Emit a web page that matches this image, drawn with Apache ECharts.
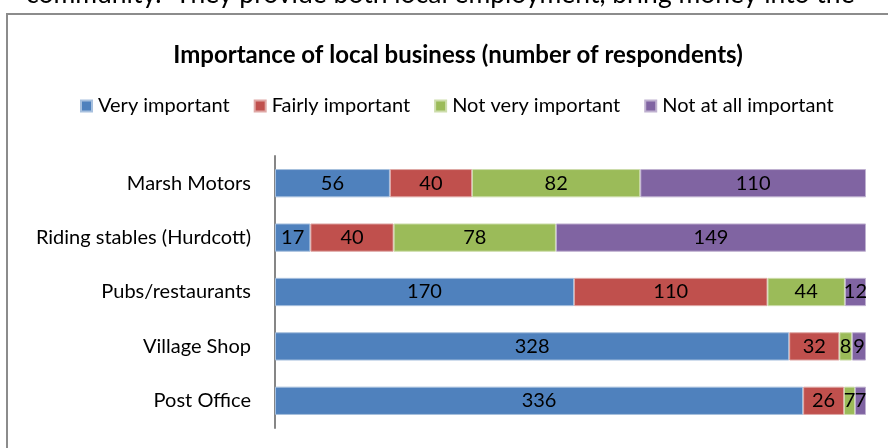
<!DOCTYPE html>
<html>
<head>
<meta charset="utf-8">
<script src="https://cdn.jsdelivr.net/npm/echarts@6/dist/echarts.min.js"></script>
<style>
  html, body { margin: 0; padding: 0; background: #fff; }
  #chart { width: 888px; height: 448px; }
</style>
</head>
<body>
<div id="chart"></div>
<script>
// Survey responses: importance of each local business
const categories = ['Post Office', 'Village Shop', 'Pubs/restaurants', 'Riding stables (Hurdcott)', 'Marsh Motors'];
const seriesNames = ['Very important', 'Fairly important', 'Not very important', 'Not at all important'];
const veryImportant = [336, 328, 170, 17, 56];
const fairlyImportant = [26, 32, 110, 40, 40];
const notVeryImportant = [7, 8, 44, 78, 82];
const notAtAllImportant = [7, 9, 12, 149, 110];

const colors = ['#4F81BD', '#C0504D', '#9BBB59', '#8064A2'];
const borders = ['#A7C0DE', '#DFA8A6', '#CDDDAC', '#BFB1D0'];
const FONT = 'Lato, "Open Sans", sans-serif';

const allValues = [veryImportant, fairlyImportant, notVeryImportant, notAtAllImportant];
const totals = categories.map((_, i) => allValues.reduce((s, arr) => s + arr[i], 0));

const chart = echarts.init(document.getElementById('chart'));

// Each row is shown as shares of its own total; labels carry the respondent counts
const series = allValues.map((arr, k) => ({
  name: seriesNames[k],
  type: 'bar',
  stack: 'total',
  barCategoryGap: '48%',
  data: arr.map((v, i) => ({ value: v / totals[i] * 100, raw: v })),
  itemStyle: { color: colors[k], borderColor: borders[k], borderWidth: 1 },
  label: {
    show: true,
    position: 'inside',
    color: '#000',
    fontFamily: FONT,
    fontSize: 20,
    formatter: p => String(p.data.raw)
  }
}));

chart.setOption({
  animation: false,
  color: colors,
  textStyle: { fontFamily: FONT },
  title: {
    text: 'Importance of local business (number of respondents)',
    left: 453,
    textAlign: 'center',
    top: 38,
    textStyle: { fontFamily: FONT, fontSize: 24, fontWeight: 'bold', color: '#000' }
  },
  legend: {
    top: 96,
    left: 80,
    padding: 0,
    itemWidth: 11,
    itemHeight: 11,
    itemGap: 24,
    icon: 'rect',
    textStyle: { fontFamily: FONT, fontSize: 20, color: '#000', padding: [0, 0, 0, 1] },
    data: seriesNames
  },
  grid: { left: 275, right: 22, top: 156, bottom: 20, containLabel: false },
  xAxis: {
    type: 'value',
    min: 0,
    max: 100,
    show: false
  },
  yAxis: {
    type: 'category',
    data: categories,
    axisLine: { show: true, lineStyle: { color: '#868686', width: 2 } },
    axisTick: { show: false },
    axisLabel: { fontFamily: FONT, fontSize: 20, color: '#000', margin: 24 },
    splitLine: { show: false }
  },
  series: series,
  graphic: [
    {
      type: 'rect',
      shape: { x: 7, y: 14, width: 900, height: 460 },
      style: { fill: null, stroke: '#8C8C8C', lineWidth: 2 },
      silent: true,
      z: -1
    },
    {
      type: 'text',
      left: 26,
      top: -19,
      style: {
        text: 'community.  They provide both local employment, bring money into the',
        font: '26.5px ' + FONT,
        fill: '#000'
      }
    }
  ]
});
</script>
</body>
</html>
